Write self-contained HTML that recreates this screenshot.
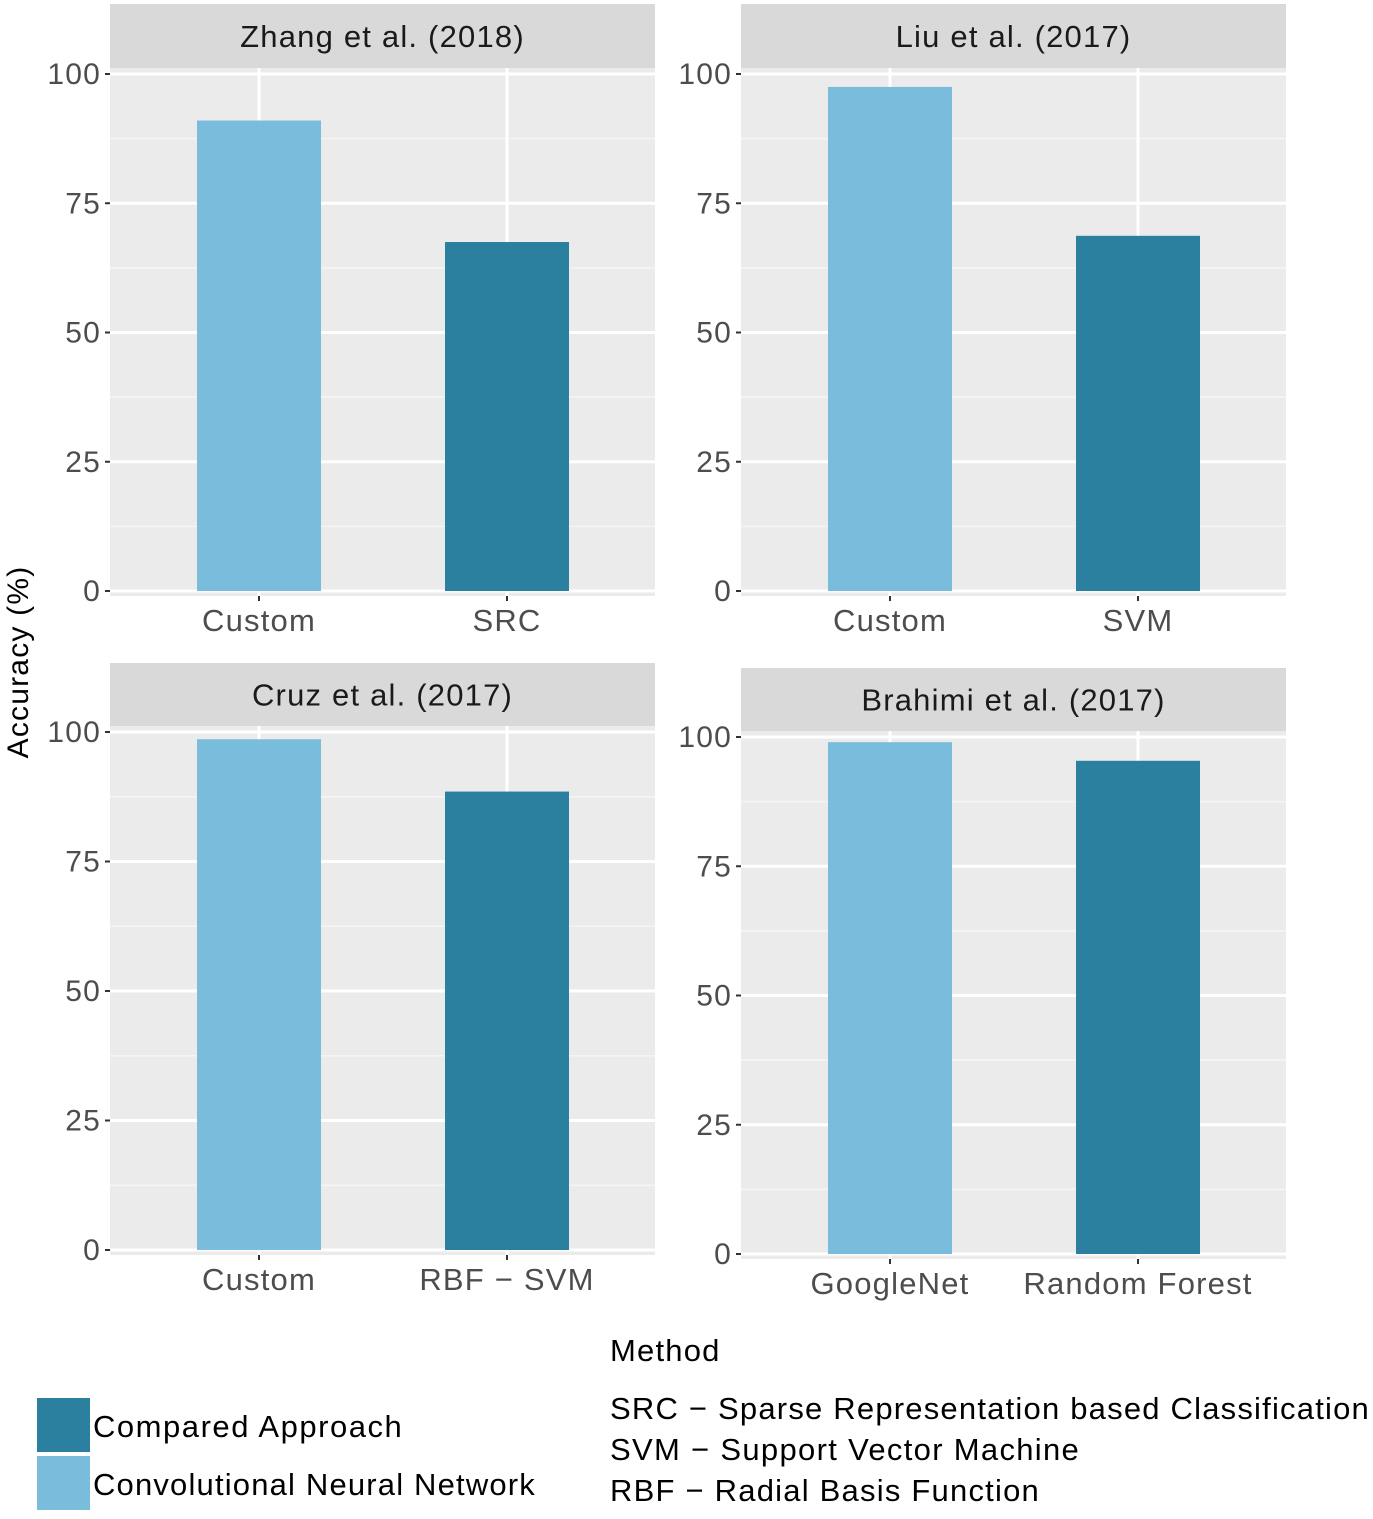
<!DOCTYPE html>
<html><head><meta charset="utf-8"><style>
body{margin:0;background:#fff}
svg{display:block;font-family:"Liberation Sans",sans-serif;letter-spacing:1.2px}
</style></head><body>
<svg id="chart" width="1373" height="1519" viewBox="0 0 1373 1519">
<text transform="translate(28,662) rotate(-90)" text-anchor="middle" font-size="30" fill="#000">Accuracy (%)</text>
<text x="610" y="1361" font-size="31" fill="#000">Method</text>
<g font-size="31" fill="#000">
<text x="610" y="1419" textLength="760">SRC − Sparse Representation based Classification</text>
<text x="610" y="1460" textLength="470">SVM − Support Vector Machine</text>
<text x="610" y="1501" textLength="430">RBF − Radial Basis Function</text>
</g>
<g>
<rect x="37" y="1398" width="53" height="54" fill="#2b7f9f"/>
<rect x="37" y="1456" width="53" height="54" fill="#7abcdb"/>
<text x="93" y="1437" font-size="31" fill="#000" textLength="310">Compared Approach</text>
<text x="93" y="1495" font-size="31" fill="#000" textLength="443">Convolutional Neural Network</text>
</g>
</svg>
<script>
const panelTitles=["Zhang et al. (2018)","Liu et al. (2017)","Cruz et al. (2017)","Brahimi et al. (2017)"];
const cnnLabels=["Custom","Custom","Custom","GoogleNet"];
const cmpLabels=["SRC","SVM","RBF − SVM","Random Forest"];
const cnnValues=[91,97.5,98.6,99];
const cmpValues=[67.5,68.7,88.5,95.4];
const yTicks=[0,25,50,75,100];
const layout=[{x:110,s:4,p:68,z:591},{x:741,s:4,p:68,z:591},{x:110,s:663,p:726,z:1250},{x:741,s:668,p:731,z:1254}];
const W=545,NS="http://www.w3.org/2000/svg",svg=document.getElementById('chart');
function mk(t,a,parent){const e=document.createElementNS(NS,t);for(const k in a)e.setAttribute(k,a[k]);(parent||svg).appendChild(e);return e;}
panelTitles.forEach((title,i)=>{
 const L=layout[i];const unit=(L.z-(L.p+6))/100;
 const y=v=>L.z-v*unit;const bottom=L.z+5;
 const xc=j=>L.x+149+248*j;const bw=124;
 const g=mk('g',{});
 
 
 const strip=mk('rect',{x:L.x,y:L.s,width:W,height:L.p-L.s,fill:'#d9d9d9'},g);
 
 
 const st=mk('text',{x:L.x+W/2,y:L.s+(L.p-L.s)/2+11,'text-anchor':'middle','font-size':31,fill:'#1a1a1a'},g);st.textContent=title;
 
 
 const bg=mk('rect',{x:L.x,y:L.p,width:W,height:bottom-L.p,fill:'#ebebeb'},g);
 
 
 for(let v=12.5;v<100;v+=25){mk('line',{x1:L.x,x2:L.x+W,y1:y(v),y2:y(v),stroke:'#f5f5f5','stroke-width':1.5},g);}
 yTicks.forEach(v=>{mk('line',{x1:L.x,x2:L.x+W,y1:y(v),y2:y(v),stroke:'#fff','stroke-width':3},g);
  mk('line',{x1:L.x-5,x2:L.x,y1:y(v),y2:y(v),stroke:'#333','stroke-width':2},g);
  const t=mk('text',{x:L.x-9,y:y(v)+10,'text-anchor':'end','font-size':30,fill:'#4d4d4d'},g);t.textContent=v;
  
  });
 [0,1].forEach(j=>mk('line',{x1:xc(j),x2:xc(j),y1:L.p,y2:bottom,stroke:'#fff','stroke-width':3},g));
 [[cnnValues[i],'#7abcdb',cnnLabels[i],'bar-cnn'],[cmpValues[i],'#2b7f9f',cmpLabels[i],'bar-compared']].forEach((d,j)=>{
  const r=mk('rect',{x:xc(j)-bw/2,y:y(d[0]),width:bw,height:y(0)-y(d[0]),fill:d[1]},g);
  
  
  mk('line',{x1:xc(j),x2:xc(j),y1:bottom,y2:bottom+5,stroke:'#333','stroke-width':2},g);
  const t=mk('text',{x:xc(j),y:bottom+35,'text-anchor':'middle','font-size':31,fill:'#4d4d4d'},g);t.textContent=d[2];
  
  
 });
});
</script>
</body></html>
